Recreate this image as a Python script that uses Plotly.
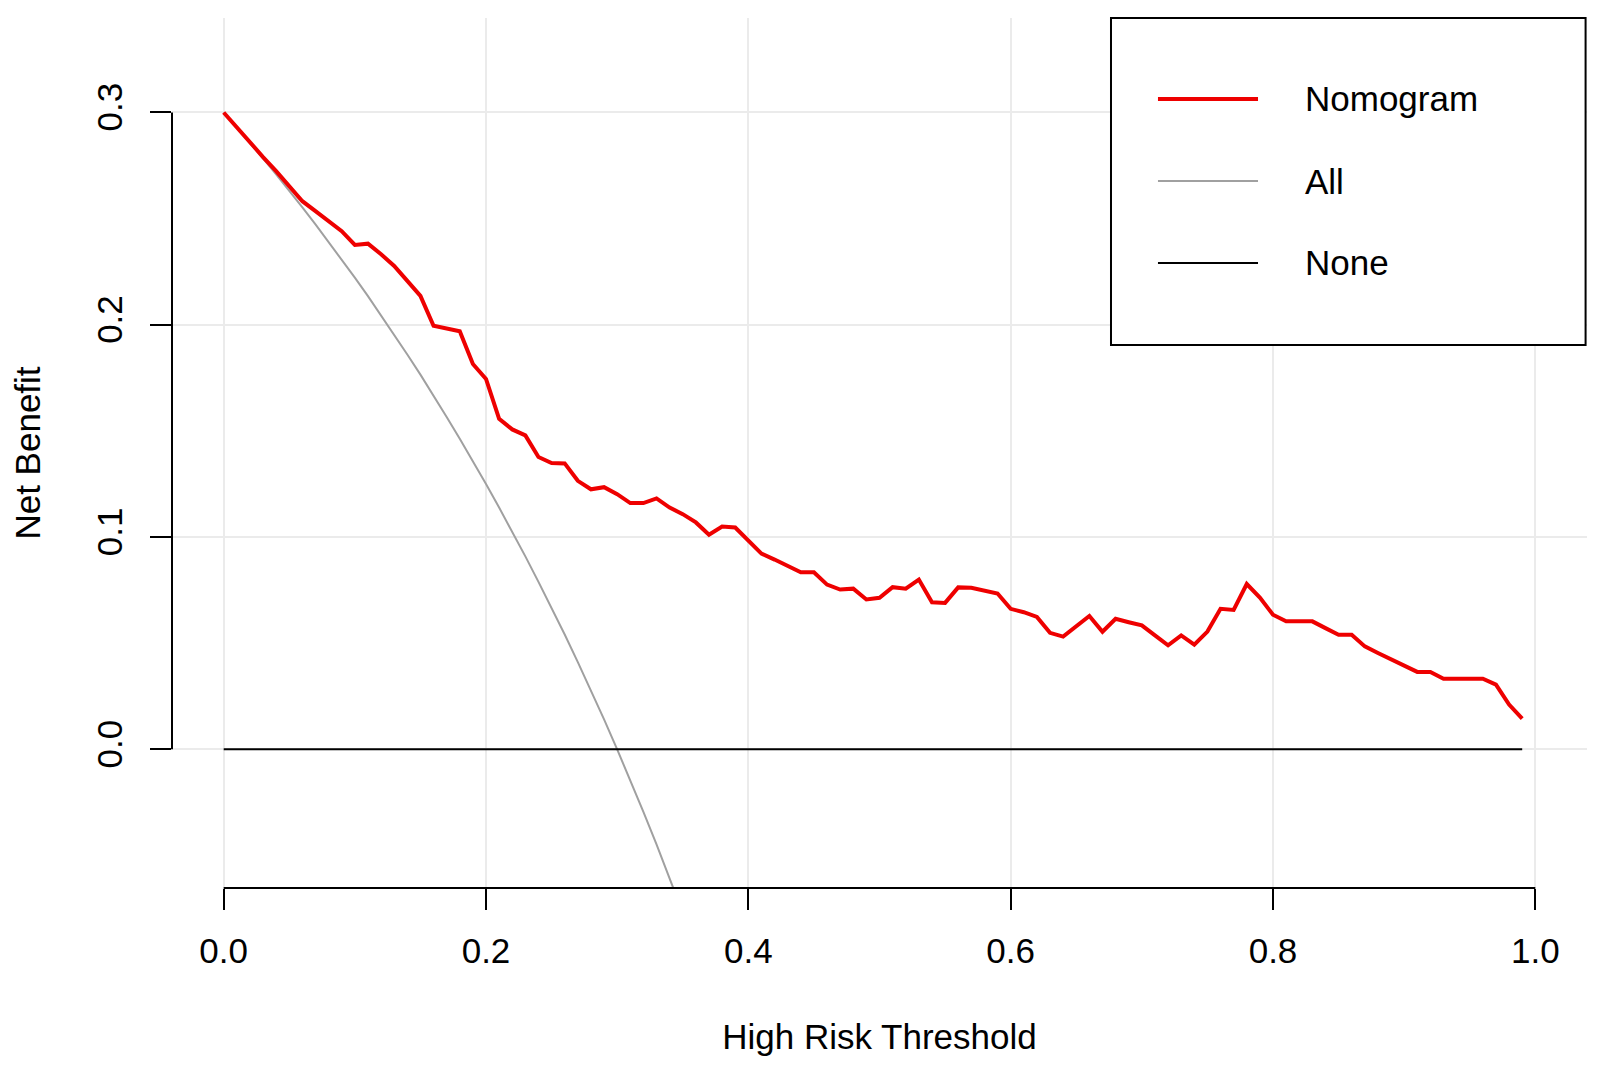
import plotly.graph_objects as go

# threshold grid (x) used by the decision curve
thresholds = [
    0.00, 0.01, 0.02, 0.03, 0.04, 0.05, 0.06, 0.07, 0.08, 0.09,
    0.10, 0.11, 0.12, 0.13, 0.14, 0.15, 0.16, 0.17, 0.18, 0.19,
    0.20, 0.21, 0.22, 0.23, 0.24, 0.25, 0.26, 0.27, 0.28, 0.29,
    0.30, 0.31, 0.32, 0.33, 0.34, 0.35, 0.36, 0.37, 0.38, 0.39,
    0.40, 0.41, 0.42, 0.43, 0.44, 0.45, 0.46, 0.47, 0.48, 0.49,
    0.50, 0.51, 0.52, 0.53, 0.54, 0.55, 0.56, 0.57, 0.58, 0.59,
    0.60, 0.61, 0.62, 0.63, 0.64, 0.65, 0.66, 0.67, 0.68, 0.69,
    0.70, 0.71, 0.72, 0.73, 0.74, 0.75, 0.76, 0.77, 0.78, 0.79,
    0.80, 0.81, 0.82, 0.83, 0.84, 0.85, 0.86, 0.87, 0.88, 0.89,
    0.90, 0.91, 0.92, 0.93, 0.94, 0.95, 0.96, 0.97, 0.98, 0.99,
]

# net benefit of the nomogram
nomogram_nb = [
    0.3000, 0.2929, 0.2857, 0.2790, 0.2724, 0.2655, 0.2582, 0.2535, 0.2488, 0.2441,
    0.2376, 0.2382, 0.2332, 0.2277, 0.2207, 0.2136, 0.1995, 0.1982, 0.1969, 0.1815,
    0.1745, 0.1557, 0.1507, 0.1479, 0.1377, 0.1349, 0.1347, 0.1265, 0.1225, 0.1235,
    0.1202, 0.1160, 0.1160, 0.1182, 0.1139, 0.1108, 0.1069, 0.1011, 0.1050, 0.1045,
    0.0983, 0.0922, 0.0894, 0.0865, 0.0834, 0.0834, 0.0776, 0.0753, 0.0757, 0.0706,
    0.0714, 0.0764, 0.0757, 0.0800, 0.0693, 0.0690, 0.0763, 0.0761, 0.0748, 0.0734,
    0.0662, 0.0646, 0.0624, 0.0549, 0.0531, 0.0577, 0.0628, 0.0554, 0.0615, 0.0599,
    0.0584, 0.0537, 0.0490, 0.0537, 0.0493, 0.0555, 0.0662, 0.0657, 0.0779, 0.0715,
    0.0634, 0.0603, 0.0603, 0.0603, 0.0571, 0.0540, 0.0540, 0.0485, 0.0454, 0.0423,
    0.0394, 0.0365, 0.0365, 0.0333, 0.0333, 0.0333, 0.0333, 0.0305, 0.0211, 0.0145,
]

# "treat all" curve, only the visible part (it leaves the plot near 0.34)
all_thresholds = thresholds[:36]
all_nb = [
    0.3000, 0.2929, 0.2857, 0.2784, 0.2708, 0.2632, 0.2553, 0.2473, 0.2391, 0.2308,
    0.2222, 0.2135, 0.2045, 0.1954, 0.1860, 0.1765, 0.1667, 0.1566, 0.1463, 0.1358,
    0.1250, 0.1139, 0.1026, 0.0909, 0.0789, 0.0667, 0.0541, 0.0411, 0.0278, 0.0141,
    0.0000, -0.0145, -0.0294, -0.0448, -0.0606, -0.0769,
]

# "treat none" is zero everywhere
none_nb = [0.0] * len(thresholds)

x_ticks = [0.0, 0.2, 0.4, 0.6, 0.8, 1.0]
x_labels = ["0.0", "0.2", "0.4", "0.6", "0.8", "1.0"]
y_ticks = [0.0, 0.1, 0.2, 0.3]
y_labels = ["0.0", "0.1", "0.2", "0.3"]

legend_names = ["Nomogram", "All", "None"]

RED = "#ee0000"
GRAY = "#a0a0a0"
FONT = "Liberation Sans, Arial, Helvetica, sans-serif"
TXT = {"family": FONT, "size": 35, "color": "black"}

fig = go.Figure()

# gray first so the red curve sits on top where they overlap
fig.add_trace(
    go.Scatter(
        x=all_thresholds,
        y=all_nb,
        mode="lines",
        name="All",
        line={"color": GRAY, "width": 2},
        showlegend=False,
    )
)
fig.add_trace(
    go.Scatter(
        x=thresholds,
        y=none_nb,
        mode="lines",
        name="None",
        line={"color": "black", "width": 2},
        showlegend=False,
    )
)
fig.add_trace(
    go.Scatter(
        x=thresholds,
        y=nomogram_nb,
        mode="lines",
        name="Nomogram",
        line={"color": RED, "width": 4},
        showlegend=False,
    )
)

# R style axis lines, only spanning the tick range
shapes = [
    dict(type="line", xref="x", yref="paper", x0=0, x1=1, y0=0, y1=0,
         line={"color": "black", "width": 2}),
    dict(type="line", xref="paper", yref="y", x0=0, x1=0, y0=0, y1=0.3,
         line={"color": "black", "width": 2}),
    # legend box
    dict(type="rect", xref="paper", yref="paper", x0=0.6636, x1=0.999, y0=0.6241, y1=1.0,
         line={"color": "black", "width": 2}, fillcolor="white", layer="above"),
]

# manual legend entries (long line samples like R's legend())
legend_rows = [0.9069, 0.8126, 0.7184]
legend_styles = [(RED, 4), (GRAY, 2), ("black", 2)]
annotations = []
for name, ypos, (col, w) in zip(legend_names, legend_rows, legend_styles):
    shapes.append(
        dict(type="line", xref="paper", yref="paper", x0=0.6968, x1=0.7675,
             y0=ypos, y1=ypos, line={"color": col, "width": w}, layer="above")
    )
    annotations.append(
        dict(text=name, xref="paper", yref="paper", x=0.799, y=ypos,
             xanchor="left", yanchor="middle", showarrow=False, font=TXT)
    )

fig.update_layout(
    width=1600,
    height=1067,
    margin={"l": 172, "r": 13, "t": 18, "b": 179},
    paper_bgcolor="white",
    plot_bgcolor="white",
    font=TXT,
    shapes=shapes,
    annotations=annotations,
    showlegend=False,
)

fig.update_xaxes(
    range=[-0.0394, 1.0394],
    tickvals=x_ticks,
    ticktext=x_labels,
    ticks="outside",
    ticklen=21,
    tickwidth=2,
    tickcolor="black",
    ticklabelstandoff=11,
    tickfont=TXT,
    showline=False,
    zeroline=False,
    showgrid=True,
    gridcolor="#ebebeb",
    gridwidth=2,
    title={"text": "High Risk Threshold", "standoff": 55, "font": TXT},
)
fig.update_yaxes(
    range=[-0.0653, 0.3445],
    tickvals=y_ticks,
    ticktext=y_labels,
    tickangle=-90,
    ticks="outside",
    ticklen=21,
    tickwidth=2,
    tickcolor="black",
    ticklabelstandoff=14,
    tickfont=TXT,
    showline=False,
    zeroline=False,
    showgrid=True,
    gridcolor="#ebebeb",
    gridwidth=2,
    title={"text": "Net Benefit", "standoff": 38, "font": TXT},
)

# the page body has an 8px default margin; drop it so the figure sits at 0,0
fig.write_html(
    "out.html",
    config={"displayModeBar": False},
    post_script="document.body.style.margin='0';",
)
